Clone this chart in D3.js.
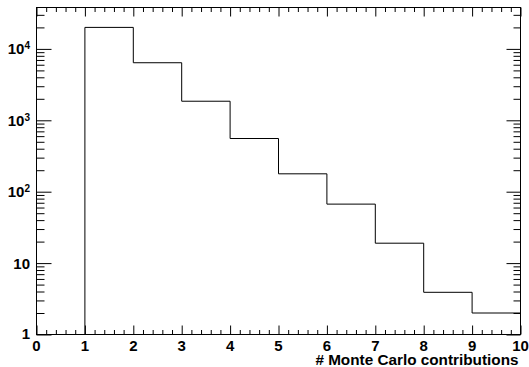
<!DOCTYPE html>
<html>
<head>
<meta charset="utf-8">
<script src="https://cdn.jsdelivr.net/npm/d3@7"></script>
<style>
  body { margin: 0; background: #fff; }
  svg { display: block; }
  text { font-family: "Liberation Sans", Arial, Helvetica, sans-serif; font-weight: bold; fill: #000; }
  .axis path { display: none; }
  .axis line { stroke: #000; stroke-width: 1; }
</style>
</head>
<body>
<div id="plot"></div>
<script>
// histogram of # Monte Carlo contributions (log y)
const lowEdges = [1, 2, 3, 4, 5, 6, 7, 8, 9];
const counts = [20000, 6400, 1850, 556, 178, 67, 19, 3.9, 2];
const xTicks = [0, 1, 2, 3, 4, 5, 6, 7, 8, 9, 10];
const yTicks = [1, 10, 100, 1000, 10000];
const yTickLabels = ["1", "10", "10|2", "10|3", "10|4"];
const xTitle = "# Monte Carlo contributions";

// dimensions
const margin = {top: 7, right: 9, bottom: 33, left: 36};
const width = 529 - margin.left - margin.right;
const height = 367 - margin.top - margin.bottom;

const svg = d3.select("#plot")
    .append("svg")
    .attr("width", 529)
    .attr("height", 367)
    .append("g")
    .attr("transform", "translate(" + (margin.left + 0.5) + "," + (margin.top + 0.5) + ")");

// scales
const xScale = d3.scaleLinear().domain([0, 10]).range([0, width]);
const yScale = d3.scaleLog().domain([1, 38000]).range([height, 0]);

// minor tick values
const xMinor = d3.range(0, 50).map(i => i / 5).filter(v => v % 1 !== 0);
const yMinor = [];
[1, 10, 100, 1000, 10000].forEach(d => {
    for (let m = 2; m <= 9; m++) {
        if (d * m < 38000) yMinor.push(d * m);
    }
});

// x axis ticks (bottom pointing up, top pointing down)
svg.append("g").attr("class", "axis")
    .attr("transform", "translate(0," + height + ")")
    .call(d3.axisTop(xScale).tickValues(xTicks).tickSize(9).tickFormat(""));
svg.append("g").attr("class", "axis")
    .attr("transform", "translate(0," + height + ")")
    .call(d3.axisTop(xScale).tickValues(xMinor).tickSize(4.5).tickFormat(""));
svg.append("g").attr("class", "axis")
    .call(d3.axisBottom(xScale).tickValues(xTicks).tickSize(9).tickFormat(""));
svg.append("g").attr("class", "axis")
    .call(d3.axisBottom(xScale).tickValues(xMinor).tickSize(4.5).tickFormat(""));

// y axis ticks (left pointing right, right pointing left)
svg.append("g").attr("class", "axis")
    .call(d3.axisRight(yScale).tickValues(yTicks).tickSize(15).tickFormat(""));
svg.append("g").attr("class", "axis")
    .call(d3.axisRight(yScale).tickValues(yMinor).tickSize(8).tickFormat(""));
svg.append("g").attr("class", "axis")
    .attr("transform", "translate(" + width + ",0)")
    .call(d3.axisLeft(yScale).tickValues(yTicks).tickSize(14).tickFormat(""));
svg.append("g").attr("class", "axis")
    .attr("transform", "translate(" + width + ",0)")
    .call(d3.axisLeft(yScale).tickValues(yMinor).tickSize(7).tickFormat(""));

// x tick labels
svg.append("g")
    .selectAll("text")
    .data(xTicks)
    .enter().append("text")
    .attr("x", d => xScale(d))
    .attr("y", height + 16)
    .attr("text-anchor", "middle")
    .style("font-size", "15px")
    .text(d => d);

// y tick labels with superscript
const yLab = svg.append("g")
    .selectAll("text")
    .data(yTicks)
    .enter().append("text")
    .attr("x", -6.5)
    .attr("y", (d, i) => yScale(d) + (i === 0 ? 4.5 : 5.5))
    .attr("text-anchor", "end")
    .style("font-size", "15px");
yLab.each(function(d, i) {
    const parts = yTickLabels[i].split("|");
    const t = d3.select(this);
    t.append("tspan").text(parts[0]);
    if (parts[1]) {
        t.append("tspan")
            .attr("dy", -5)
            .style("font-size", "10px")
            .text(parts[1]);
    }
});

// axis title
svg.append("text")
    .attr("x", width - 2)
    .attr("y", height + 30)
    .attr("text-anchor", "end")
    .style("font-size", "15.3px")
    .text(xTitle);

// histogram outline
const pts = [[lowEdges[0], 1]]
    .concat(lowEdges.map((e, i) => [e, counts[i]]))
    .concat([[10, counts[counts.length - 1]]]);
const line = d3.line()
    .x(d => xScale(d[0]))
    .y(d => yScale(d[1]))
    .curve(d3.curveStepAfter);
svg.append("path")
    .datum(pts)
    .attr("fill", "none")
    .attr("stroke", "#000")
    .attr("stroke-width", 1)
    .attr("d", line);

// frame
svg.append("rect")
    .attr("x", 0)
    .attr("y", 0)
    .attr("width", width)
    .attr("height", height)
    .attr("fill", "none")
    .attr("stroke", "#000")
    .attr("stroke-width", 1);
</script>
</body>
</html>
